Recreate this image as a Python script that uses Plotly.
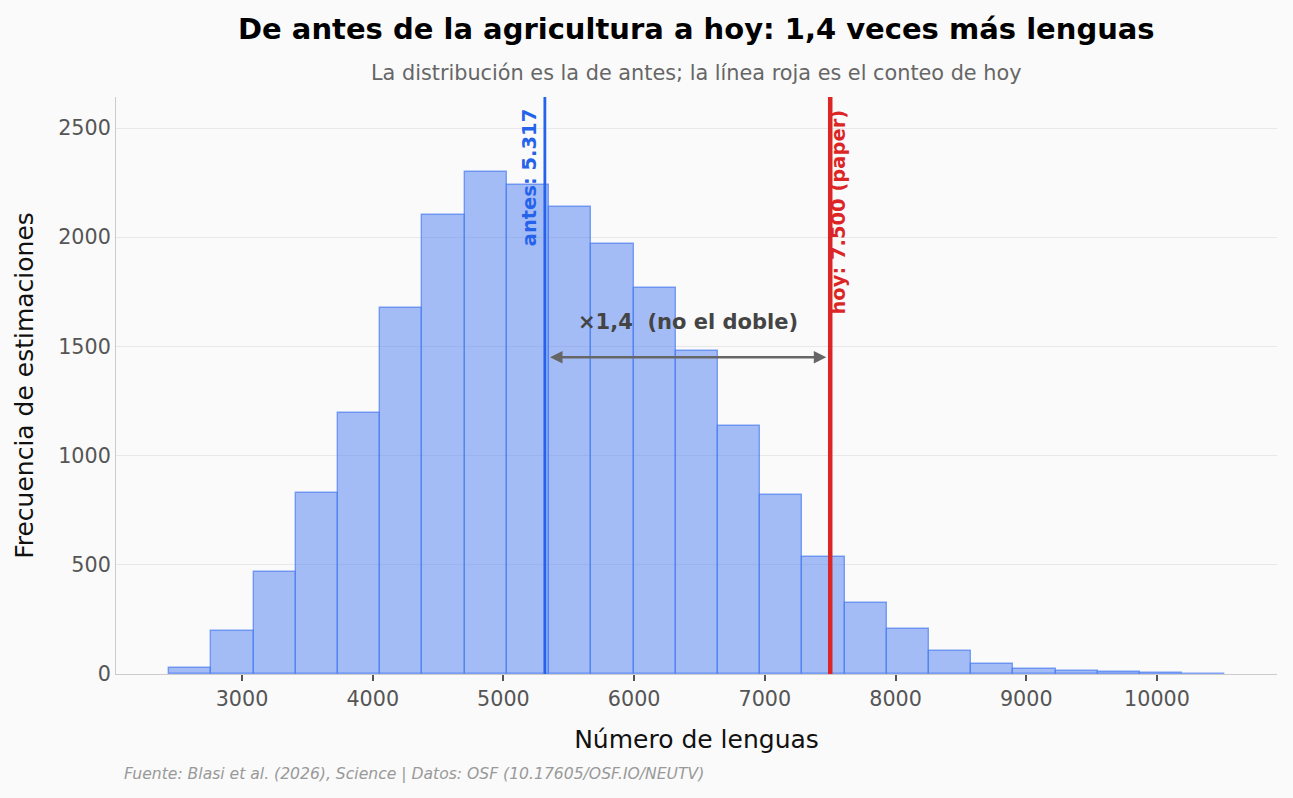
import plotly.graph_objects as go

# Histogram data (bins of ~323 languages)
bin_start = 2442
bin_width = 323
counts = [27, 197, 467, 829, 1195, 1676, 2102, 2299, 2239, 2138, 1969, 1767,
          1479, 1136, 820, 536, 325, 206, 105, 46, 23, 14, 9, 5, 2]
centers = [bin_start + bin_width * (i + 0.5) for i in range(len(counts))]

x_ticks = [3000, 4000, 5000, 6000, 7000, 8000, 9000, 10000]
x_ticklabels = [str(v) for v in x_ticks]
y_ticks = [0, 500, 1000, 1500, 2000, 2500]

antes_val = 5317
hoy_val = 7500
arrow_y = 1450
ratio_label = "×1,4\u00a0\u00a0(no el doble)"

fig = go.Figure()
fig.add_trace(go.Bar(
    x=centers, y=counts, width=[bin_width] * len(counts),
    marker=dict(color="rgba(78,126,240,0.5)",
                line=dict(color="rgba(75,125,242,0.7)", width=1.4)),
    showlegend=False, hoverinfo="x+y",
))

fig.add_shape(type="line", x0=antes_val, x1=antes_val, y0=0, y1=1, yref="paper",
              line=dict(color="#2563eb", width=2.8))
fig.add_shape(type="line", x0=hoy_val, x1=hoy_val, y0=0, y1=1, yref="paper",
              line=dict(color="#dc2626", width=4.5))

fig.add_annotation(x=antes_val, y=0.982, yref="paper", text="<b>antes: 5.317</b>",
                   textangle=-90, showarrow=False, xanchor="right", yanchor="top",
                   xshift=-1, font=dict(family="DejaVu Sans", size=19.5, color="#2563eb"))
fig.add_annotation(x=hoy_val, y=0.982, yref="paper", text="<b>hoy: 7.500 (paper)</b>",
                   textangle=-90, showarrow=False, xanchor="left", yanchor="top",
                   xshift=-5, font=dict(family="DejaVu Sans", size=19.5, color="#dc2626"))

# double arrow
fig.add_annotation(x=7470, y=arrow_y, ax=5345, ay=arrow_y, xref="x", yref="y",
                   axref="x", ayref="y", text="", showarrow=True,
                   arrowhead=2, arrowside="end+start", arrowsize=1, arrowwidth=2.5,
                   arrowcolor="#666666")
fig.add_annotation(x=(antes_val + hoy_val) / 2, y=1612, text="<b>" + ratio_label + "</b>",
                   showarrow=False, font=dict(family="DejaVu Sans", size=21, color="#444444"))

# Title and subtitle
fig.add_annotation(x=0.5, y=1.118, xref="paper", yref="paper", yanchor="middle",
                   text="<b>De antes de la agricultura a hoy: 1,4 veces más lenguas</b>",
                   showarrow=False, font=dict(family="DejaVu Sans", size=29, color="#000000"))
fig.add_annotation(x=0.5, y=1.0416, xref="paper", yref="paper", yanchor="middle",
                   text="La distribución es la de antes; la línea roja es el conteo de hoy",
                   showarrow=False, font=dict(family="DejaVu Sans", size=20.8, color="#666666"))

fig.add_annotation(x=0.005, y=-0.173, xref="paper", yref="paper", xanchor="left",
                   yanchor="middle",
                   text="<i>Fuente: Blasi et al. (2026), Science | Datos: OSF (10.17605/OSF.IO/NEUTV)</i>",
                   showarrow=False, font=dict(family="DejaVu Sans", size=15.6, color="#999999"))

fig.update_layout(
    width=1293, height=798,
    margin=dict(l=116, r=16, t=97, b=124),
    paper_bgcolor="#fafafa", plot_bgcolor="#fafafa",
    font=dict(family="DejaVu Sans", color="#444444"),
    bargap=0,
    xaxis=dict(range=[2036, 10918], tickvals=x_ticks, ticktext=x_ticklabels,
               showgrid=False, zeroline=False, showline=True, linecolor="#cccccc", linewidth=1,
               ticks="outside", ticklen=6, tickcolor="#555555", tickwidth=1.5,
               tickfont=dict(size=20.7, color="#555555"),
               title=dict(text="Número de lenguas", font=dict(size=25, color="#111111"), standoff=20)),
    yaxis=dict(range=[0, 2642], tickvals=y_ticks,
               showgrid=True, gridcolor="#e8e8e8", gridwidth=1, zeroline=False,
               showline=True, linecolor="#cccccc", linewidth=1, ticks="",
               tickfont=dict(size=20.7, color="#555555"),
               title=dict(text="Frecuencia de estimaciones", font=dict(size=25, color="#111111"), standoff=17)),
)

fig.write_html("out.html")
